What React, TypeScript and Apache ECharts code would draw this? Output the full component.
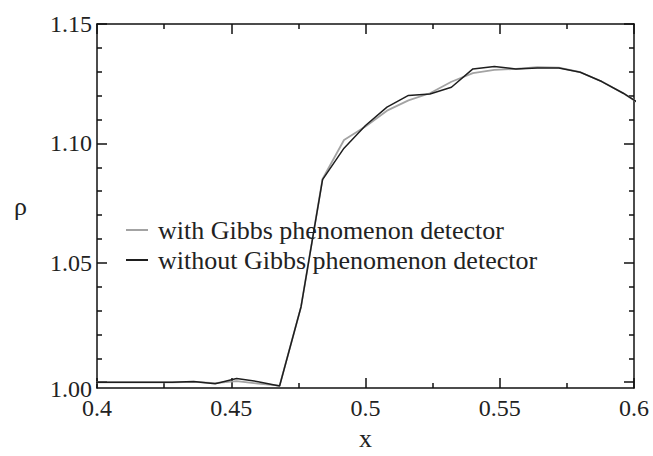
import React, { useEffect, useRef } from "react";
import * as echarts from "echarts";

const xValues = [0.396, 0.404, 0.412, 0.42, 0.428, 0.436, 0.444, 0.452, 0.46, 0.468, 0.476, 0.484, 0.492, 0.5, 0.508, 0.516, 0.524, 0.532, 0.54, 0.548, 0.556, 0.564, 0.572, 0.58, 0.588, 0.596, 0.604];
const withDetector = [0.9999, 0.9999, 0.9999, 0.9999, 0.9999, 1.0001, 0.9996, 1.0004, 0.9994, 0.9985, 1.0316, 1.0851, 1.1014, 1.1071, 1.1137, 1.118, 1.121, 1.1258, 1.1294, 1.1308, 1.1312, 1.1319, 1.1317, 1.1298, 1.1259, 1.121, 1.1153];
const withoutDetector = [0.9999, 0.9999, 0.9999, 0.9999, 0.9999, 1.0003, 0.9993, 1.0015, 1.0002, 0.9984, 1.0316, 1.0848, 1.098, 1.1075, 1.1152, 1.1201, 1.1207, 1.1235, 1.1312, 1.1322, 1.1312, 1.1316, 1.1316, 1.1298, 1.1259, 1.121, 1.1153];
const seriesNames = ["with Gibbs phenomenon detector", "without Gibbs phenomenon detector"];
const seriesColors = ["#a3a3a3", "#1e1e1e"];
const yMajorTicks = [1.0, 1.05, 1.1, 1.15];
const yMinorTicks = [1.01, 1.02, 1.03, 1.04, 1.06, 1.07, 1.08, 1.09, 1.11, 1.12, 1.13, 1.14];

const FONT = "'Liberation Serif', 'DejaVu Serif', serif";
const TICK = { color: "#111", width: 1.5 };

export default function App() {
  const ref = useRef<HTMLDivElement>(null);
  useEffect(() => {
    if (!ref.current) return;
    const chart = echarts.init(ref.current, undefined, { renderer: "svg" });
    const baseX = {
      type: "value" as const,
      min: 0.4,
      max: 0.6,
      interval: 0.05,
      axisLine: { show: true, lineStyle: TICK },
      axisTick: { show: true, inside: true, length: 10, lineStyle: TICK },
      minorTick: { show: true, splitNumber: 2, length: 5, lineStyle: TICK },
      splitLine: { show: false },
    };
    const yRange = { type: "value" as const, min: 0.9975, max: 1.15, splitLine: { show: false } };
    const majorY = (position: "left" | "right", showLine: boolean) => ({
      ...yRange,
      position,
      axisLine: { show: showLine, lineStyle: TICK },
      axisTick: { show: true, inside: true, length: 10, lineStyle: TICK, customValues: yMajorTicks },
      axisLabel: { show: false },
    });
    const minorY = (position: "left" | "right") => ({
      ...yRange,
      position,
      axisLine: { show: false },
      axisTick: { show: true, inside: true, length: 5, lineStyle: TICK, customValues: yMinorTicks },
      axisLabel: { show: false },
    });
    const mkData = (vals: number[]) => xValues.map((x, i) => [x, vals[i]]);
    chart.setOption({
      animation: false,
      backgroundColor: "#fff",
      textStyle: { fontFamily: FONT },
      grid: { left: 97, right: 19, top: 24, bottom: 57 },
      legend: {
        orient: "vertical",
        left: 126,
        top: 217,
        padding: 0,
        itemWidth: 22,
        itemHeight: 2,
        itemGap: 4,
        icon: "rect",
        data: seriesNames,
        textStyle: { fontFamily: FONT, fontSize: 26, color: "#222", padding: [0, 0, 0, 5] },
      },
      xAxis: [
        {
          ...baseX,
          position: "bottom",
          name: "x",
          nameLocation: "middle",
          nameGap: 34,
          nameTextStyle: { fontFamily: FONT, fontSize: 26, color: "#222", lineHeight: 20 },
          axisLabel: { fontFamily: FONT, fontSize: 24, color: "#222", margin: 8 },
        },
        { ...baseX, position: "top", axisLabel: { show: false } },
      ],
      yAxis: [
        {
          ...majorY("left", true),
          name: "ρ",
          nameLocation: "middle",
          nameRotate: 0,
          nameGap: 70,
          nameTextStyle: { fontFamily: FONT, fontSize: 26, color: "#222" },
          axisLabel: {
            show: true,
            customValues: yMajorTicks,
            fontFamily: FONT,
            fontSize: 24,
            color: "#222",
            margin: 5,
            formatter: (v: number) => (Math.abs(v - 1) < 1e-9 ? "{low|1.00}" : v.toFixed(2)),
            rich: { low: { fontFamily: FONT, fontSize: 24, color: "#222", padding: [14, 0, 0, 0] } },
          },
        },
        minorY("left"),
        majorY("right", true),
        minorY("right"),
      ],
      series: [
        {
          name: seriesNames[0],
          type: "line",
          data: mkData(withDetector),
          showSymbol: false,
          lineStyle: { color: seriesColors[0], width: 1.8 },
          itemStyle: { color: seriesColors[0] },
          z: 2,
        },
        {
          name: seriesNames[1],
          type: "line",
          data: mkData(withoutDetector),
          showSymbol: false,
          lineStyle: { color: seriesColors[1], width: 1.5 },
          itemStyle: { color: seriesColors[1] },
          z: 3,
        },
      ],
    });
    return () => chart.dispose();
  }, []);
  return (
    <div
      ref={ref}
      style={{ position: "fixed", left: 0, top: 0, width: 653, height: 456, overflow: "hidden" }}
    />
  );
}
